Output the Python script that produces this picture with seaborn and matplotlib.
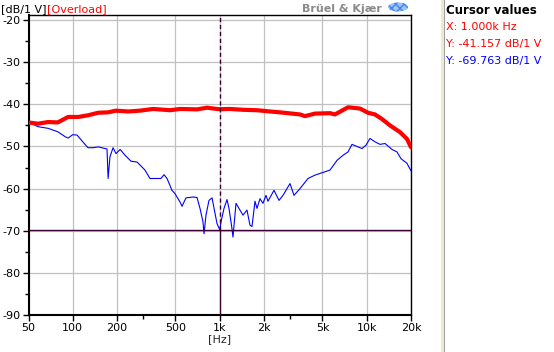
import matplotlib
matplotlib.use("Agg")
import matplotlib.pyplot as plt
import matplotlib.patches as mpatches
from matplotlib.ticker import FixedLocator, NullFormatter
import seaborn as sns
import pandas as pd

# ---- data ----
red_freq = [50, 58, 68, 79, 93, 109, 127, 149, 174, 197, 238, 287, 352, 459, 537,
            700, 819, 958, 1000, 1174, 1439, 1792, 2197, 2570, 3515, 3801, 4446,
            5623, 6081, 7456, 8995, 10198, 11380, 12700, 14390, 16830, 18780, 20000]
red_db = [-44.3, -44.6, -44.2, -44.3, -43.0, -43.0, -42.6, -42.0, -41.9, -41.5, -41.7,
          -41.5, -41.1, -41.4, -41.1, -41.2, -40.8, -41.1, -41.157, -41.1, -41.3, -41.4,
          -41.7, -41.9, -42.4, -42.8, -42.2, -42.1, -42.4, -40.7, -41.0, -42.0, -42.4,
          -43.5, -45.0, -46.6, -48.2, -50.2]

blue_freq = [50, 58, 68, 79, 89, 93, 100, 107, 117, 127, 137, 149, 166, 171, 174, 179,
             188, 197, 210, 227, 249, 274, 310, 335, 363, 398, 418, 438, 473, 496, 537,
             554, 589, 658, 700, 734, 769, 782, 806, 845, 886, 929, 958, 1000, 1020,
             1069, 1120, 1156, 1211, 1230, 1290, 1331, 1439, 1532, 1606, 1657, 1737,
             1792, 1878, 1968, 2063, 2129, 2339, 2530, 2693, 3005, 3200, 3515, 3984,
             4446, 5200, 5623, 6275, 6894, 7456, 7937, 8719, 9279, 9880, 10520, 11380,
             12310, 13310, 14850, 16060, 17100, 18780, 20000]
blue_db = [-44.2, -45.3, -45.7, -46.5, -47.7, -48.0, -47.2, -47.3, -48.9, -50.3, -50.3,
           -50.1, -50.5, -50.6, -57.6, -52.5, -50.3, -51.7, -50.7, -52.1, -53.5, -53.7,
           -55.6, -57.6, -57.6, -57.6, -56.7, -57.6, -60.4, -61.2, -63.2, -64.2, -62.2,
           -62.0, -62.1, -64.7, -67.9, -70.7, -66.3, -62.8, -62.2, -65.9, -68.3, -69.763,
           -67.9, -64.7, -62.6, -64.7, -69.5, -71.5, -63.5, -64.3, -66.3, -65.1, -68.7,
           -69.0, -63.0, -64.7, -62.4, -63.5, -61.6, -63.0, -60.4, -62.8, -61.6, -58.8,
           -61.6, -60.0, -57.6, -56.8, -56.0, -55.6, -53.3, -52.1, -51.3, -49.5, -50.1,
           -50.5, -49.7, -48.1, -48.9, -49.5, -49.3, -50.7, -51.3, -52.9, -54.0, -55.8]

x_ticks = [50, 100, 200, 500, 1000, 2000, 5000, 10000, 20000]
x_tick_labels = ["50", "100", "200", "500", "1k", "2k", "5k", "10k", "20k"]
x_minor = [300, 3000]
y_ticks = [-20, -30, -40, -50, -60, -70, -80, -90]
y_tick_labels = ["-20", "-30", "-40", "-50", "-60", "-70", "-80", "-90"]
y_minor = [-25, -35, -45, -55, -65, -75, -85]

cursor_x = 1000
cursor_y = -69.763
cursor_lines = ["X: 1.000k Hz", "Y: -41.157 dB/1 V", "Y: -69.763 dB/1 V"]

# ---- figure ----
sns.set_theme(style="white")
plt.rcParams['font.family'] = ['DejaVu Sans']
plt.rcParams['axes.unicode_minus'] = False

W, H = 554, 352
fig = plt.figure(figsize=(W / 100, H / 100), dpi=100)
fig.patch.set_facecolor("white")
ax = fig.add_axes([28.5 / W, 1 - 315 / H, (411 - 28.5) / W, (315 - 15) / H])

df_red = pd.DataFrame({"f": red_freq, "db": red_db})
df_blue = pd.DataFrame({"f": blue_freq, "db": blue_db})

ax.set_xscale("log")
ax.set_xlim(50, 20000)
ax.set_ylim(-90, -18.8)

ax.xaxis.set_major_locator(FixedLocator(x_ticks))
ax.xaxis.set_minor_locator(FixedLocator(x_minor))
ax.xaxis.set_minor_formatter(NullFormatter())
ax.set_xticklabels(x_tick_labels)
ax.yaxis.set_major_locator(FixedLocator(y_ticks))
ax.set_yticklabels(y_tick_labels)
ax.yaxis.set_minor_locator(FixedLocator(y_minor))
ax.grid(True, which="major", color="#c0c0c0", linewidth=0.9)
ax.set_axisbelow(True)

sns.lineplot(data=df_blue, x="f", y="db", ax=ax, color="#0000ff", linewidth=0.8,
             zorder=3, estimator=None, sort=False)
sns.lineplot(data=df_red, x="f", y="db", ax=ax, color="#ff0000", linewidth=3.0,
             zorder=4, estimator=None, sort=False)

# cursors
cur_col = "#3c0032"
ax.axhline(cursor_y, color=cur_col, linewidth=1.0, zorder=5)
ax.vlines(cursor_x, cursor_y, -18.8, colors=cur_col, linewidth=1.0,
          linestyles=(0, (3, 2)), zorder=5)
ax.vlines(cursor_x, -90, cursor_y, colors=cur_col, linewidth=1.0, zorder=5)

for s in ax.spines.values():
    s.set_color("black")
    s.set_linewidth(1.0)
ax.spines["left"].set_linewidth(1.5)
ax.spines["bottom"].set_linewidth(1.5)

ax.tick_params(axis="both", which="major", direction="out", length=4, width=1,
               color="black", labelsize=8, labelcolor="black", pad=1.5,
               bottom=True, left=True)
ax.tick_params(axis="both", which="minor", direction="out", length=3, width=1,
               color="black", bottom=True, left=True)
ax.set_xlabel("[Hz]", fontsize=8, labelpad=1)
ax.set_ylabel("")

# header texts
t1 = fig.text(1 / W, 1 - 9 / H, "[dB/1 V]", fontsize=8, color="black", va="center", ha="left")
fig.canvas.draw()
bb = t1.get_window_extent()
fig.text(bb.x1 / W, 1 - 9 / H, "[Overload]", fontsize=8, color="#ff0000",
         va="center", ha="left")
fig.text(382 / W, 1 - 9 / H, "Brüel & Kjær", fontsize=8, color="#8a8a8a",
         fontweight="bold", va="center", ha="right")
logo = mpatches.Ellipse((398 / W, 1 - 7 / H), 20 / W, 9 / H, transform=fig.transFigure,
                        facecolor="#9ec4f5", edgecolor="#3f86f0", hatch="xxxx",
                        linewidth=0.0)
fig.patches.append(logo)

# separator bar
sep = mpatches.Rectangle((441 / W, 0), 3 / W, 1, transform=fig.transFigure,
                         facecolor="#ece9d8", edgecolor="none")
fig.patches.append(sep)
sep2 = mpatches.Rectangle((443.5 / W, 0), 1 / W, 1, transform=fig.transFigure,
                          facecolor="#a0a0a0", edgecolor="none")
fig.patches.append(sep2)

# cursor panel
fig.text(446 / W, 1 - 10 / H, "Cursor values", fontsize=8.5, fontweight="bold",
         color="black", va="center", ha="left")
cols = ["#ff0000", "#ff0000", "#0000ff"]
for i, (txt, c) in enumerate(zip(cursor_lines, cols)):
    fig.text(446 / W, 1 - (27 + 17 * i) / H, txt, fontsize=8, color=c,
             va="center", ha="left")

fig.savefig("out.png", dpi=100)
